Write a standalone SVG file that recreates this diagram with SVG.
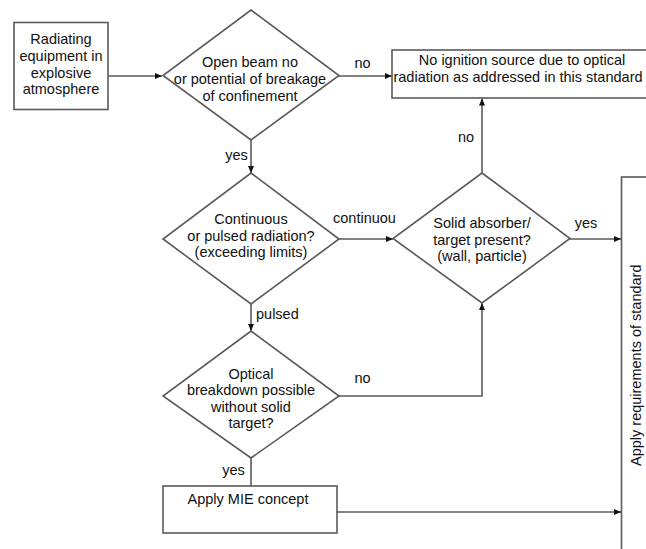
<svg xmlns="http://www.w3.org/2000/svg" width="646" height="549" viewBox="0 0 646 549">
<defs>
<marker id="arr" markerUnits="userSpaceOnUse" markerWidth="8" markerHeight="7" refX="7" refY="3" orient="auto">
<path d="M0,0 L7,3 L0,6 z" fill="#111"/>
</marker>
<style>
.shape{fill:#fff;stroke:#5a5a5a;stroke-width:1.6}
.line{fill:none;stroke:#5a5a5a;stroke-width:1.6}
text{font-family:"Liberation Sans",Arial,sans-serif;font-size:14.5px;fill:#111}
.c{text-anchor:middle}
</style>
</defs>
<rect width="646" height="549" fill="#fff"/>
<g id="connectors">
<path class="line" d="M108,76 H162" marker-end="url(#arr)"/>
<path class="line" d="M339,76 H392" marker-end="url(#arr)"/>
<path class="line" d="M251,140 V173" marker-end="url(#arr)"/>
<path class="line" d="M339,239 H393" marker-end="url(#arr)"/>
<path class="line" d="M482,173 V98.5" marker-end="url(#arr)"/>
<path class="line" d="M570,239 H621" marker-end="url(#arr)"/>
<path class="line" d="M251,304 V331" marker-end="url(#arr)"/>
<path class="line" d="M339,396 H482 V303" marker-end="url(#arr)"/>
<path class="line" d="M251,458 V486"/>
<path class="line" d="M337,512 H621" marker-end="url(#arr)"/>
<text x="362.5" y="68" class="c">no</text>
<text x="236.5" y="159.5" class="c">yes</text>
<text x="466" y="141.5" class="c">no</text>
<text x="333" y="223">continuou</text>
<text x="586" y="227.5" class="c">yes</text>
<text x="256" y="318.5">pulsed</text>
<text x="362.5" y="383" class="c">no</text>
<text x="233.5" y="474.5" class="c">yes</text>
</g>
<g id="n1">
<rect class="shape" x="14" y="22.5" width="94" height="87"/>
<text class="c" x="61" y="44">Radiating</text>
<text class="c" x="61" y="60.5">equipment in</text>
<text class="c" x="61" y="77.5">explosive</text>
<text class="c" x="61" y="94">atmosphere</text>
</g>
<g id="d1">
<polygon class="shape" points="251,10 339,75.5 251,140 163,75.5"/>
<text class="c" x="250" y="67">Open beam no</text>
<text class="c" x="250" y="84">or potential of breakage</text>
<text class="c" x="250" y="100.5">of confinement</text>
</g>
<g id="n2">
<rect class="shape" x="392" y="50" width="300" height="48"/>
<text class="c" x="522" y="65">No ignition source due to optical</text>
<text class="c" x="518" y="82" font-size="13.8">radiation as addressed in this standard</text>
</g>
<g id="d2">
<polygon class="shape" points="251,173 339,239 251,304 163,239"/>
<text class="c" x="251" y="223.5">Continuous</text>
<text class="c" x="251" y="240.5">or pulsed radiation?</text>
<text class="c" x="251" y="257">(exceeding limits)</text>
</g>
<g id="d3">
<polygon class="shape" points="482,173 570,238.5 482,303 393,238.5"/>
<text class="c" x="482" y="228">Solid absorber/</text>
<text class="c" x="482" y="244.5">target present?</text>
<text class="c" x="482" y="261">(wall, particle)</text>
</g>
<g id="d4">
<polygon class="shape" points="251,331 339,396 251,458 163,396"/>
<text class="c" x="251" y="378.5">Optical</text>
<text class="c" x="251" y="395">breakdown possible</text>
<text class="c" x="251" y="411.5">without solid</text>
<text class="c" x="251" y="428">target?</text>
</g>
<g id="n5">
<rect class="shape" x="163" y="486" width="174" height="47"/>
<text class="c" x="248" y="503.5">Apply MIE concept</text>
</g>
<g id="n6">
<rect class="shape" x="621.5" y="177" width="100" height="400"/>
<text x="641" y="466" font-size="15" transform="rotate(-90 641 466)">Apply requirements of standard</text>
</g>
</svg>
